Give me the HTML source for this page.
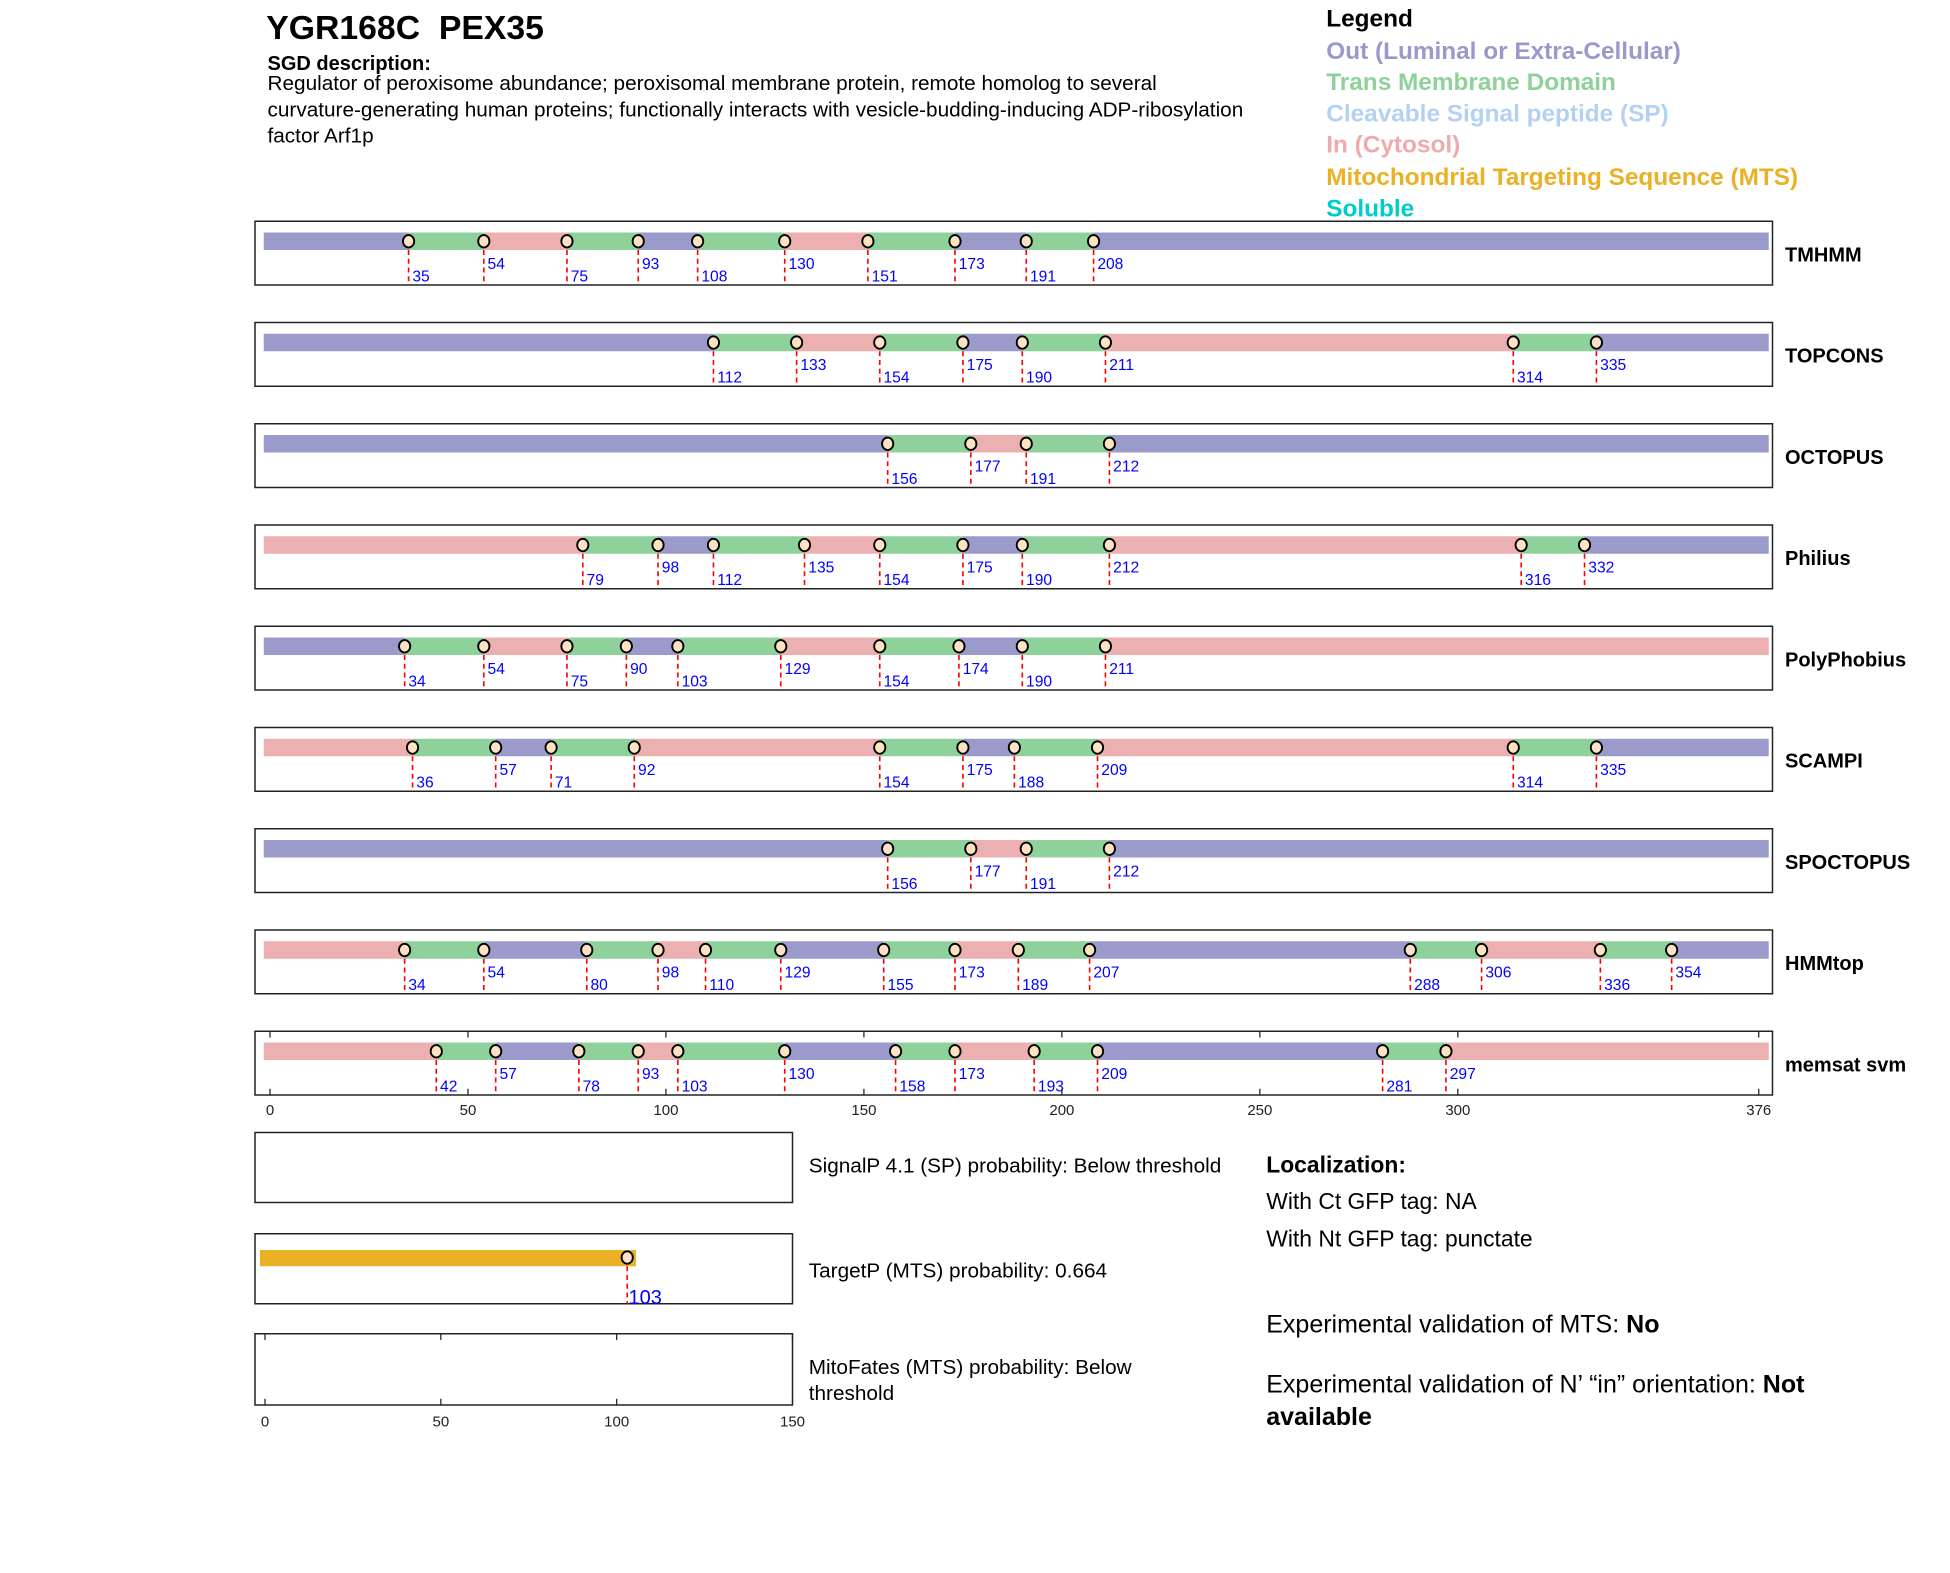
<!DOCTYPE html>
<html><head><meta charset="utf-8">
<style>
html,body{margin:0;padding:0;background:#fff;}
svg{display:block;font-family:"Liberation Sans",Arial,sans-serif;}
</style></head>
<body>
<svg id="chart" width="1950" height="1573" viewBox="0 0 1560 1258.4" xmlns="http://www.w3.org/2000/svg">
<g>
<text x="213" y="31" font-size="27" font-weight="bold" xml:space="preserve">YGR168C  PEX35</text>
<text x="214" y="56" font-size="16" font-weight="bold">SGD description:</text>
<text x="214" y="72" font-size="16.6">Regulator of peroxisome abundance; peroxisomal membrane protein, remote homolog to several</text>
<text x="214" y="93" font-size="16.6">curvature-generating human proteins; functionally interacts with vesicle-budding-inducing ADP-ribosylation</text>
<text x="214" y="114" font-size="16.6">factor Arf1p</text>
</g>
<g font-size="19.5" font-weight="bold">
<text x="1061" y="21" fill="#000">Legend</text>
<text x="1061" y="47" fill="#9999cc">Out (Luminal or Extra-Cellular)</text>
<text x="1061" y="72" fill="#8fd19b">Trans Membrane Domain</text>
<text x="1061" y="97" fill="#b3d1f2">Cleavable Signal peptide (SP)</text>
<text x="1061" y="122" fill="#efabab">In (Cytosol)</text>
<text x="1061" y="148" fill="#ebb125">Mitochondrial Targeting Sequence (MTS)</text>
<text x="1061" y="173" fill="#00cccc">Soluble</text>
</g>
<g id="tracks"></g>
<g id="bottom"></g>
<g font-size="16.6">
<text x="647" y="938">SignalP 4.1 (SP) probability: Below threshold</text>
<text x="647" y="1022">TargetP (MTS) probability: 0.664</text>
<text x="647" y="1099">MitoFates (MTS) probability: Below</text>
<text x="647" y="1120">threshold</text>
</g>
<g>
<text x="1013" y="938" font-size="18.3" font-weight="bold">Localization:</text>
<text x="1013" y="967" font-size="18.3">With Ct GFP tag: NA</text>
<text x="1013" y="997" font-size="18.3">With Nt GFP tag: punctate</text>
<text x="1013" y="1066" font-size="20">Experimental validation of MTS: <tspan font-weight="bold">No</tspan></text>
<text x="1013" y="1114" font-size="20">Experimental validation of N’ “in” orientation: <tspan font-weight="bold">Not</tspan></text>
<text x="1013" y="1140" font-size="20" font-weight="bold">available</text>
</g>
</svg>
<script>
const methods = ["TMHMM","TOPCONS","OCTOPUS","Philius","PolyPhobius","SCAMPI","SPOCTOPUS","HMMtop","memsat svm"];
const boundaries = [
 [35,54,75,93,108,130,151,173,191,208],
 [112,133,154,175,190,211,314,335],
 [156,177,191,212],
 [79,98,112,135,154,175,190,212,316,332],
 [34,54,75,90,103,129,154,174,190,211],
 [36,57,71,92,154,175,188,209,314,335],
 [156,177,191,212],
 [34,54,80,98,110,129,155,173,189,207,288,306,336,354],
 [42,57,78,93,103,130,158,173,193,209,281,297]
];
const segmentTypes = [
 ["out","tm","in","tm","out","tm","in","tm","out","tm","out"],
 ["out","tm","in","tm","out","tm","in","tm","out"],
 ["out","tm","in","tm","out"],
 ["in","tm","out","tm","in","tm","out","tm","in","tm","out"],
 ["out","tm","in","tm","out","tm","in","tm","out","tm","in"],
 ["in","tm","out","tm","in","tm","out","tm","in","tm","out"],
 ["out","tm","in","tm","out"],
 ["in","tm","out","tm","in","tm","out","tm","in","tm","out","tm","in","tm","out"],
 ["in","tm","out","tm","in","tm","out","tm","in","tm","out","tm","in"]
];
const seqLength = 376;
const axisTicks = [0,50,100,150,200,250,300,376];
const targetpCleavage = 103;
const mitoTicks = [0,50,100,150];

const NS="http://www.w3.org/2000/svg";
const colors={out:"#9b9bcb",tm:"#8fd19b",in:"#ecb0b0"};
function mk(tag,attrs,parent){const e=document.createElementNS(NS,tag);for(const k in attrs)e.setAttribute(k,attrs[k]);parent.appendChild(e);return e;}
const X0=216,X1=1407;
function xs(v){return X0+(v/seqLength)*(X1-X0);}
const tracks=document.getElementById('tracks');
methods.forEach((name,i)=>{
  const top=177+i*81.0, bot=top+51;
  const g=mk('g',{},tracks);
  
  
  const box=mk('rect',{x:204,y:top,width:1214,height:51,fill:'#fff',stroke:'#222','stroke-width':1.2},g);
  
  
  const b=boundaries[i];
  const pts=[0,...b,seqLength];
  for(let k=0;k<pts.length-1;k++){
    const type=segmentTypes[i][k]||'out';
    const xa=k===0?211:xs(pts[k]);
    const xb=k===pts.length-2?1415:xs(pts[k+1]);
    const r=mk('rect',{x:xa,y:top+9,width:xb-xa,height:14,fill:colors[type]},g);
    
    
  }
  if(i===8){
    axisTicks.forEach(t=>{
      const tk=mk('line',{x1:xs(t),x2:xs(t),y1:top,y2:top+5,stroke:'#222','stroke-width':1},g);
      
      
      const tb=mk('line',{x1:xs(t),x2:xs(t),y1:bot,y2:bot-5,stroke:'#222','stroke-width':1},g);
      
      
      const tl=mk('text',{x:xs(t),y:bot+16,'font-size':12,'text-anchor':'middle',fill:'#222'},g);
      tl.textContent=t;
      
      
    });
  }
  b.forEach((v,k)=>{
    const x=xs(v);
    const ln=mk('line',{x1:x,x2:x,y1:top+16,y2:bot,stroke:'#ff0000','stroke-width':1.3,'stroke-dasharray':'4,3'},g);
    
    
    const c=mk('ellipse',{cx:x,cy:top+16,rx:4.5,ry:5,fill:'#fde3c4',stroke:'#000','stroke-width':1.5},g);
    
    
    const t=mk('text',{x:x+3,y:top+(k%2===0?48:38),'font-size':12.5,fill:'#0000ff'},g);
    t.textContent=v;
    
    
  });
  const lab=mk('text',{x:1428,y:top+32,'font-size':16,'font-weight':'bold'},g);
  lab.textContent=name;
  
  
});
const bottom=document.getElementById('bottom');
const M0=212,M1=634;
function ms(v){return M0+(v/150)*(M1-M0);}
const sp=mk('rect',{x:204,y:906,width:430,height:56,fill:'#fff',stroke:'#222','stroke-width':1.2},bottom);


const tp=mk('rect',{x:204,y:987,width:430,height:56,fill:'#fff',stroke:'#222','stroke-width':1.2},bottom);


const tb=mk('rect',{x:208,y:1000,width:ms(targetpCleavage)+7-208,height:13,fill:'#ebb125'},bottom);


const tl=mk('line',{x1:ms(targetpCleavage),x2:ms(targetpCleavage),y1:1006,y2:1043,stroke:'#ff0000','stroke-width':1.3,'stroke-dasharray':'4,3'},bottom);


const tc=mk('ellipse',{cx:ms(targetpCleavage),cy:1006,rx:4.5,ry:5,fill:'#fde3c4',stroke:'#000','stroke-width':1.5},bottom);


const tt=mk('text',{x:ms(targetpCleavage)+1,y:1043,'font-size':16,fill:'#0000ff'},bottom);
tt.textContent=targetpCleavage;


const mf=mk('rect',{x:204,y:1067,width:430,height:57,fill:'#fff',stroke:'#222','stroke-width':1.2},bottom);


mitoTicks.forEach(t=>{
  const a=mk('line',{x1:ms(t),x2:ms(t),y1:1067,y2:1072,stroke:'#222'},bottom);
  
  
  const b2=mk('line',{x1:ms(t),x2:ms(t),y1:1124,y2:1119,stroke:'#222'},bottom);
  
  
  const l=mk('text',{x:ms(t),y:1141,'font-size':12,'text-anchor':'middle',fill:'#222'},bottom);
  l.textContent=t;
  
  
});
</script>
</body></html>
